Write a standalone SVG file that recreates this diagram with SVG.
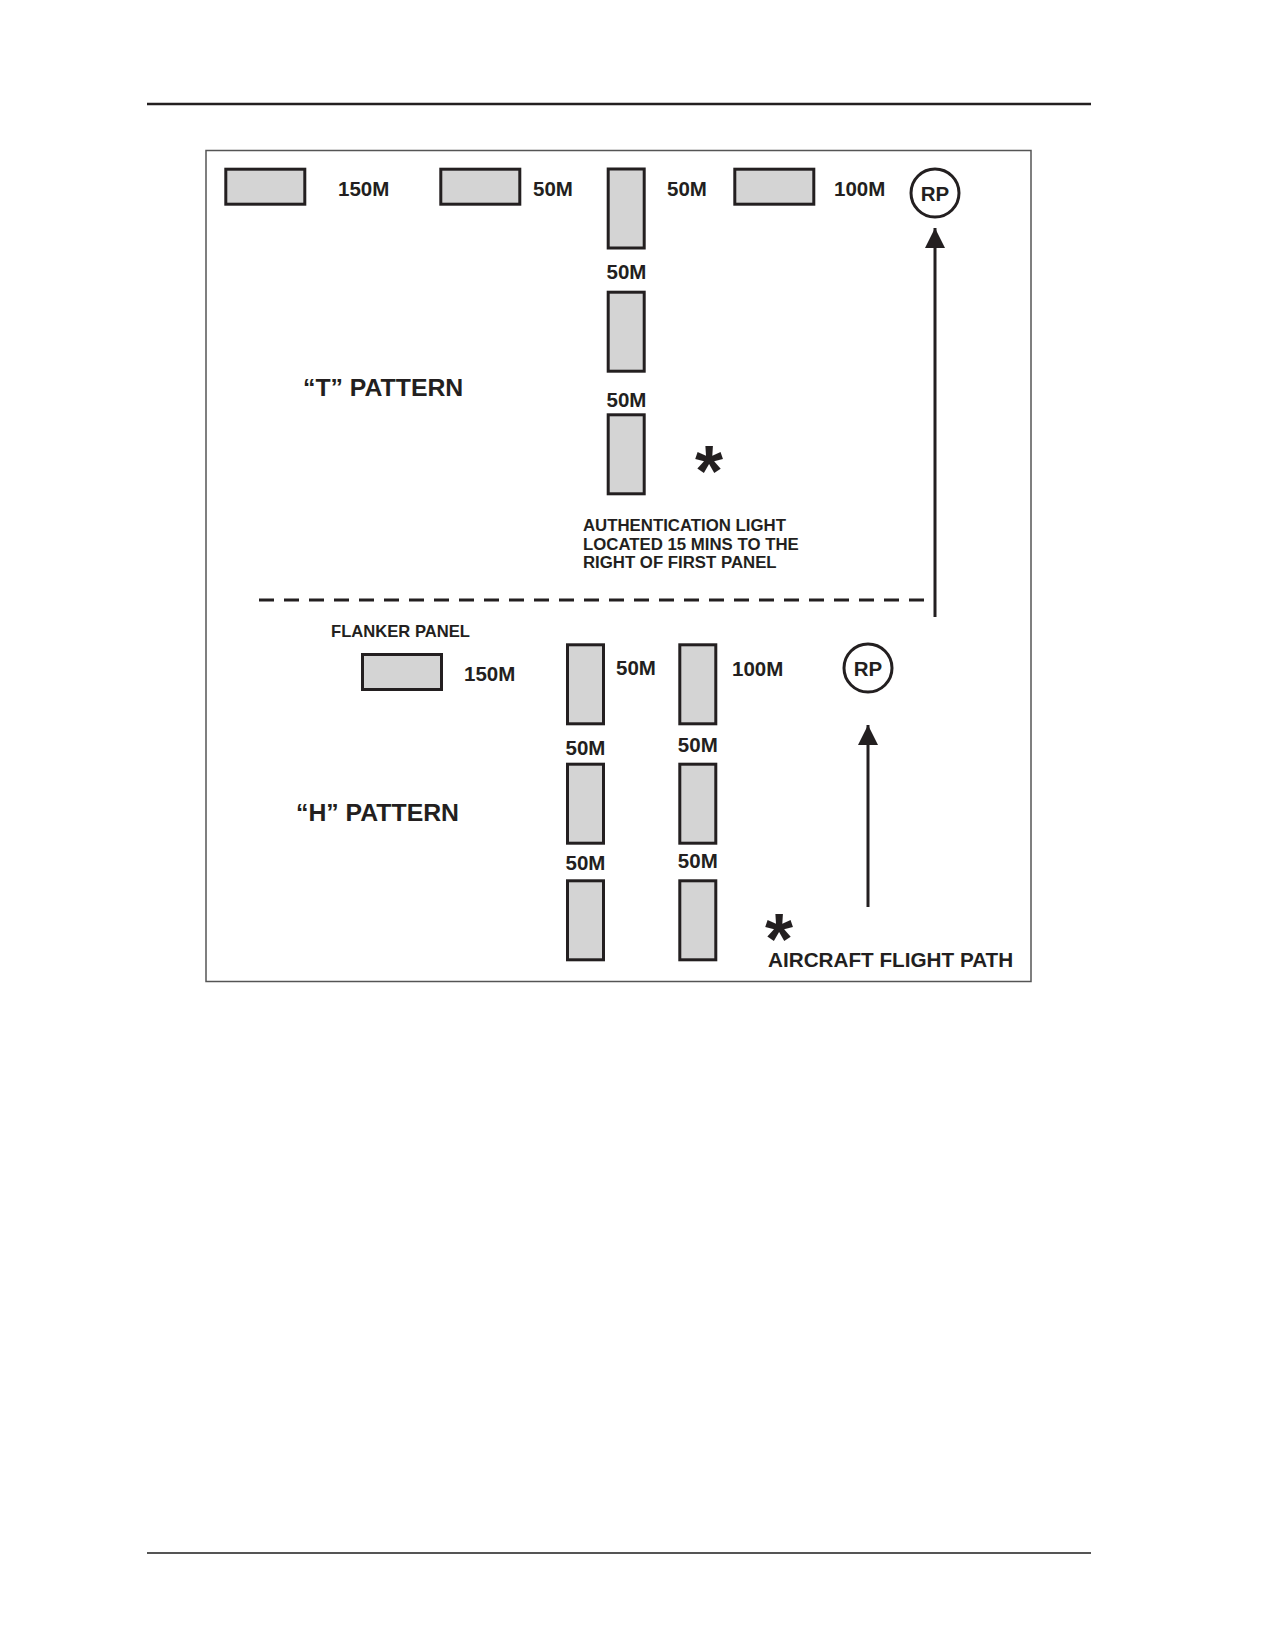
<svg xmlns="http://www.w3.org/2000/svg" width="1275" height="1650" viewBox="0 0 1275 1650">
<defs>
<style>
.panel{fill:#d4d4d4;stroke:#231f20;stroke-width:3}
.lbl{font-family:"Liberation Sans",Arial,sans-serif;font-weight:bold;font-size:20.5px;fill:#231f20}
.big{font-size:24.8px}
.small{font-size:16.8px}
.mid{text-anchor:middle}
.rp{fill:none;stroke:#231f20;stroke-width:3}
.conn{stroke:#231f20;stroke-width:3;fill:none}
.star{font-family:"Liberation Sans",Arial,sans-serif;font-weight:bold;font-size:72px;fill:#231f20}
</style>
<marker id="ah" markerUnits="userSpaceOnUse" markerWidth="20" markerHeight="22" refX="20" refY="10" orient="auto">
<path d="M0,0 L20,10 L0,20 Z" fill="#231f20"/>
</marker>
</defs>
<rect width="1275" height="1650" fill="#ffffff"/>
<line x1="147" y1="104" x2="1091" y2="104" stroke="#231f20" stroke-width="2.5"/>
<line x1="147" y1="1553" x2="1091" y2="1553" stroke="#555" stroke-width="2"/>
<rect x="206" y="150.5" width="825" height="831" fill="none" stroke="#555" stroke-width="1.5"/>

<g id="t-pattern">
<g id="t-panel-1"><rect class="panel" x="225.8" y="169.2" width="79" height="35"/></g>
<text class="lbl" x="338" y="196">150M</text>
<g id="t-panel-2"><rect class="panel" x="440.8" y="169.2" width="79" height="35"/></g>
<text class="lbl" x="533" y="196">50M</text>
<g id="t-panel-3"><rect class="panel" x="608.2" y="169" width="36" height="79"/></g>
<text class="lbl" x="667" y="196">50M</text>
<g id="t-panel-4"><rect class="panel" x="734.8" y="169.2" width="79" height="35"/></g>
<text class="lbl" x="834" y="196">100M</text>
<text class="lbl mid" x="626.5" y="278.5">50M</text>
<g id="t-panel-5"><rect class="panel" x="608.2" y="292.2" width="36" height="79"/></g>
<text class="lbl mid" x="626.5" y="407">50M</text>
<g id="t-panel-6"><rect class="panel" x="608.2" y="414.8" width="36" height="79"/></g>
<text class="lbl big" x="303" y="396">“T” PATTERN</text>
<text class="star" x="695" y="496">*</text>
<text class="lbl small" x="583" y="531">AUTHENTICATION LIGHT</text>
<text class="lbl small" x="583" y="549.5">LOCATED 15 MINS TO THE</text>
<text class="lbl small" x="583" y="568">RIGHT OF FIRST PANEL</text>
<g id="t-rp"><circle class="rp" cx="935" cy="193" r="24"/><text class="lbl mid" x="935" y="200.5">RP</text></g>
</g>

<line x1="259" y1="600" x2="924" y2="600" stroke="#231f20" stroke-width="3" stroke-dasharray="15 10"/>

<g id="h-pattern">
<text class="lbl" x="331" y="637" style="font-size:16.6px">FLANKER PANEL</text>
<g id="h-flanker"><rect class="panel" x="362.5" y="654.5" width="79" height="35"/></g>
<text class="lbl" x="464" y="681">150M</text>
<g id="h-panel-1"><rect class="panel" x="567.5" y="644.8" width="36" height="79"/></g>
<text class="lbl" x="616" y="675">50M</text>
<g id="h-panel-2"><rect class="panel" x="679.8" y="644.8" width="36" height="79"/></g>
<text class="lbl" x="732" y="676">100M</text>
<text class="lbl mid" x="585.5" y="755">50M</text>
<text class="lbl mid" x="697.8" y="752">50M</text>
<g id="h-panel-3"><rect class="panel" x="567.5" y="764.2" width="36" height="79"/></g>
<g id="h-panel-4"><rect class="panel" x="679.8" y="764.2" width="36" height="79"/></g>
<text class="lbl mid" x="585.5" y="870">50M</text>
<text class="lbl mid" x="697.8" y="868">50M</text>
<g id="h-panel-5"><rect class="panel" x="567.5" y="880.8" width="36" height="79"/></g>
<g id="h-panel-6"><rect class="panel" x="679.8" y="880.8" width="36" height="79"/></g>
<text class="lbl big" x="296" y="821">“H” PATTERN</text>
<g id="h-rp"><circle class="rp" cx="868" cy="668" r="24"/><text class="lbl mid" x="868" y="675.5">RP</text></g>
<text class="star" x="765" y="964">*</text>
<text class="lbl" x="768" y="967" style="font-size:20.7px">AIRCRAFT FLIGHT PATH</text>
</g>

<g id="connectors">
<line class="conn" x1="935" y1="617" x2="935" y2="228" marker-end="url(#ah)"/>
<line class="conn" x1="868" y1="907" x2="868" y2="725" marker-end="url(#ah)"/>
</g>
</svg>
